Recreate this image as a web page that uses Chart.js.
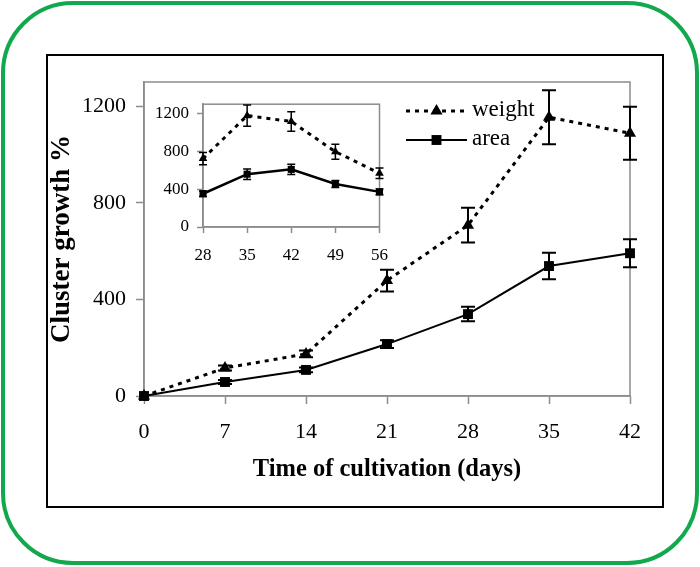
<!DOCTYPE html>
<html>
<head>
<meta charset="utf-8">
<script src="https://cdn.jsdelivr.net/npm/chart.js@4/dist/chart.umd.min.js"></script>
<style>
body { margin: 0; background: #fff; }
#page { position: relative; width: 700px; height: 567px; overflow: hidden; }
#green { position: absolute; left: 1px; top: 1px; width: 690px; height: 556px; border: 4px solid #13a84e; border-radius: 72px; }
#frame { position: absolute; left: 46px; top: 54px; width: 614px; height: 450px; border: 2px solid #000; }
#main { position: absolute; left: 0; top: 0; }
#inset { position: absolute; left: 150px; top: 86px; background: #fff; }
</style>
</head>
<body>
<div id="page">
  <div id="green"></div>
  <div id="frame"></div>
  <canvas id="main" width="700" height="567"></canvas>
  <canvas id="inset" width="250" height="182"></canvas>
</div>
<script>
// main chart data (days of cultivation)
const days = [0, 7, 14, 21, 28, 35, 42];
const weight = [0, 116, 174, 478, 707, 1154, 1088];
const weightErr = [0, 10, 14, 45, 72, 112, 110];
const area = [0, 58, 108, 215, 339, 538, 591];
const areaErr = [0, 8, 10, 16, 30, 55, 58];
const yTicks = [0, 400, 800, 1200];

// inset data
const inDays = [28, 35, 42, 49, 56];
const inWeight = [724, 1179, 1117, 797, 569];
const inWeightErr = [65, 113, 103, 80, 55];
const inArea = [352, 559, 610, 455, 372];
const inAreaErr = [30, 55, 55, 38, 30];

const serif = "'Liberation Serif', 'Times New Roman', serif";
const axisGray = '#8c8c8c';

function toPoints(xs, ys) {
    let pts = [];
    for (let i = 0; i < xs.length; i++) {
        pts.push({ x: xs[i], y: ys[i] });
    }
    return pts;
}

// vertical error bars with caps, read through the chart scales
const errorBars = {
    id: 'errorBars',
    afterDatasetsDraw(chart, args, opts) {
        const ctx = chart.ctx;
        const xs = chart.scales.x, ys = chart.scales.y;
        ctx.save();
        ctx.strokeStyle = '#000';
        ctx.lineWidth = opts.width || 2;
        ctx.setLineDash([]);
        chart.data.datasets.forEach(ds => {
            ds.data.forEach((p, i) => {
                const e = ds.errors[i];
                if (!e) return;
                const px = xs.getPixelForValue(p.x);
                const top = ys.getPixelForValue(p.y + e);
                const bot = ys.getPixelForValue(p.y - e);
                const c = opts.cap || 6;
                ctx.beginPath();
                ctx.moveTo(px, top); ctx.lineTo(px, bot);
                ctx.moveTo(px - c, top); ctx.lineTo(px + c, top);
                ctx.moveTo(px - c, bot); ctx.lineTo(px + c, bot);
                ctx.stroke();
            });
        });
        ctx.restore();
    }
};

// gray box round the plot area
const plotBox = {
    id: 'plotBox',
    beforeDatasetsDraw(chart) {
        const a = chart.chartArea;
        const ctx = chart.ctx;
        ctx.save();
        ctx.strokeStyle = axisGray;
        ctx.lineWidth = 1.5;
        ctx.strokeRect(a.left, a.top, a.right - a.left, a.bottom - a.top);
        ctx.restore();
    }
};

function drawMarker(ctx, style, r, x, y) {
    ctx.beginPath();
    if (style === 'triangle') {
        ctx.moveTo(x, y - r);
        ctx.lineTo(x + r * 0.87, y + r * 0.5);
        ctx.lineTo(x - r * 0.87, y + r * 0.5);
        ctx.closePath();
    } else {
        const s = r * Math.SQRT1_2;
        ctx.rect(x - s, y - s, 2 * s, 2 * s);
    }
    ctx.fill();
}

// legend: line sample with marker, then label
const lineLegend = {
    id: 'lineLegend',
    afterDraw(chart) {
        const ctx = chart.ctx;
        const a = chart.chartArea;
        ctx.save();
        chart.data.datasets.forEach((ds, i) => {
            const y = a.top + 29 + i * 29;
            const x0 = a.left + 262, x1 = a.left + 323;
            ctx.strokeStyle = '#000';
            ctx.fillStyle = '#000';
            ctx.lineWidth = ds.borderWidth;
            ctx.setLineDash(ds.borderDash || []);
            ctx.beginPath();
            ctx.moveTo(x0, y); ctx.lineTo(x1, y);
            ctx.stroke();
            ctx.setLineDash([]);
            drawMarker(ctx, ds.pointStyle, ds.pointRadius, (x0 + x1) / 2, y);
            ctx.font = '23px ' + serif;
            ctx.textBaseline = 'middle';
            ctx.fillText(ds.label, x1 + 5, y - 1);
        });
        ctx.restore();
    }
};

const plainTick = v => String(v);

const mainChart = new Chart(document.getElementById('main'), {
    type: 'line',
    data: {
        datasets: [{
            label: 'weight',
            data: toPoints(days, weight),
            errors: weightErr,
            borderColor: '#000',
            backgroundColor: '#000',
            borderWidth: 3,
            borderDash: [4, 5],
            pointStyle: 'triangle',
            pointRadius: 7,
            pointBorderWidth: 0,
            clip: false
        }, {
            label: 'area',
            data: toPoints(days, area),
            errors: areaErr,
            borderColor: '#000',
            backgroundColor: '#000',
            borderWidth: 2,
            pointStyle: 'rect',
            pointRadius: 7,
            pointBorderWidth: 0,
            clip: false
        }]
    },
    options: {
        responsive: false,
        animation: false,
        layout: { padding: { left: 46, top: 82, right: 70, bottom: 83 } },
        plugins: {
            legend: { display: false },
            tooltip: { enabled: false },
            errorBars: { cap: 7, width: 2 }
        },
        scales: {
            x: {
                type: 'linear',
                min: 0,
                max: 42,
                ticks: { stepSize: 7, color: '#000', padding: 15, callback: plainTick, font: { family: serif, size: 22 } },
                grid: { drawOnChartArea: false, tickLength: 8, tickColor: axisGray, tickWidth: 1.5 },
                border: { color: axisGray, width: 1.5 },
                title: { display: true, text: 'Time of cultivation (days)', color: '#000', padding: 0,
                    font: { family: serif, size: 24.5, weight: 'bold' } },
                afterFit(scale) { scale.height = 88; }
            },
            y: {
                type: 'linear',
                min: 0,
                max: 1300,
                afterBuildTicks(scale) { scale.ticks = yTicks.map(v => ({ value: v })); },
                ticks: { color: '#000', padding: 10, callback: plainTick, font: { family: serif, size: 22 } },
                grid: { drawOnChartArea: false, tickLength: 8, tickColor: axisGray, tickWidth: 1.5 },
                border: { color: axisGray, width: 1.5 },
                title: { display: true, text: 'Cluster growth %', color: '#000', padding: { top: 0, bottom: 0 },
                    font: { family: serif, size: 27, weight: 'bold' } },
                afterFit(scale) { scale.width = 98; }
            }
        }
    },
    plugins: [plotBox, errorBars, lineLegend]
});

const insetChart = new Chart(document.getElementById('inset'), {
    type: 'line',
    data: {
        datasets: [{
            label: 'weight',
            data: toPoints(inDays, inWeight),
            errors: inWeightErr,
            borderColor: '#000',
            backgroundColor: '#000',
            borderWidth: 3,
            borderDash: [4, 5],
            pointStyle: 'triangle',
            pointRadius: 5,
            pointBorderWidth: 0,
            clip: false
        }, {
            label: 'area',
            data: toPoints(inDays, inArea),
            errors: inAreaErr,
            borderColor: '#000',
            backgroundColor: '#000',
            borderWidth: 2.5,
            pointStyle: 'rect',
            pointRadius: 5,
            pointBorderWidth: 0,
            clip: false
        }]
    },
    options: {
        responsive: false,
        animation: false,
        layout: { padding: { left: 0, top: 14, right: 15, bottom: 0 } },
        plugins: {
            legend: { display: false },
            tooltip: { enabled: false },
            errorBars: { cap: 4, width: 1.5 }
        },
        scales: {
            x: {
                type: 'linear',
                min: 28,
                max: 56,
                ticks: { stepSize: 7, color: '#000', padding: 12, callback: plainTick, font: { family: serif, size: 17 } },
                grid: { drawOnChartArea: false, tickLength: 6, tickColor: axisGray, tickWidth: 1.5 },
                border: { color: axisGray, width: 1.5 },
                afterFit(scale) { scale.height = 41; }
            },
            y: {
                type: 'linear',
                min: 0,
                max: 1300,
                afterBuildTicks(scale) { scale.ticks = yTicks.map(v => ({ value: v })); },
                ticks: { color: '#000', padding: 8, callback: plainTick, font: { family: serif, size: 17 } },
                grid: { drawOnChartArea: false, tickLength: 6, tickColor: axisGray, tickWidth: 1.5 },
                border: { color: axisGray, width: 1.5 },
                afterFit(scale) { scale.width = 53; }
            }
        }
    },
    plugins: [plotBox, errorBars]
});
</script>
</body>
</html>
